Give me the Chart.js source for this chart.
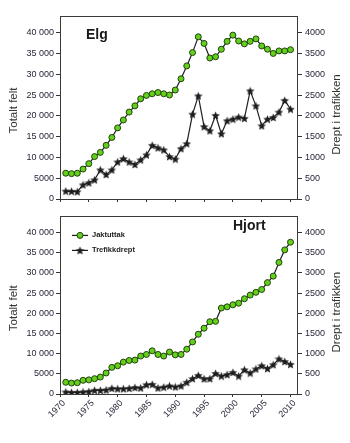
<!DOCTYPE html>
<html>
<head>
<meta charset="utf-8">
<script src="https://cdn.jsdelivr.net/npm/chart.js@4.4.1/dist/chart.umd.min.js"></script>
<style>
html, body { margin: 0; padding: 0; background: #fff; }
canvas { display: block; }
</style>
</head>
<body>
<canvas id="elgChart" width="350" height="208"></canvas>
<canvas id="hjortChart" width="350" height="235"></canvas>
<script>
// Data
const years = [1971, 1972, 1973, 1974, 1975, 1976, 1977, 1978, 1979, 1980,
               1981, 1982, 1983, 1984, 1985, 1986, 1987, 1988, 1989, 1990,
               1991, 1992, 1993, 1994, 1995, 1996, 1997, 1998, 1999, 2000,
               2001, 2002, 2003, 2004, 2005, 2006, 2007, 2008, 2009, 2010];

const elgHunted = [6200, 6100, 6200, 7200, 8500, 10200, 11200, 12900, 14800, 17100,
                   19000, 20900, 22400, 24100, 24900, 25300, 25600, 25300, 25000, 26200,
                   28900, 32000, 35200, 39000, 37400, 33900, 34200, 36000, 37900, 39400,
                   38000, 37300, 37900, 38500, 36800, 36000, 35000, 35600, 35600, 35900];
const elgTraffic = [190, 185, 175, 340, 390, 460, 700, 590, 700, 890,
                    970, 890, 830, 940, 1060, 1290, 1230, 1180, 1020, 960,
                    1210, 1330, 2040, 2480, 1740, 1640, 2010, 1570, 1880, 1920,
                    1970, 1940, 2600, 2240, 1760, 1920, 1960, 2090, 2370, 2160];

const hjortHunted = [2900, 2700, 2800, 3400, 3500, 3800, 4200, 5200, 6600, 7000,
                     7900, 8300, 8400, 9400, 9800, 10700, 9800, 9400, 10400, 9700,
                     9800, 11100, 12900, 14800, 16300, 17900, 18000, 21300, 21600, 22100,
                     22500, 23600, 24500, 25200, 25900, 27600, 29200, 32600, 35700, 37600];
const hjortTraffic = [50, 40, 40, 50, 60, 90, 90, 100, 140, 130,
                      130, 140, 160, 150, 230, 240, 150, 170, 200, 175,
                      200, 290, 380, 460, 375, 380, 510, 445, 480, 535,
                      445, 600, 520, 620, 700, 630, 725, 870, 805, 735];

const yearTicks = [1970, 1975, 1980, 1985, 1990, 1995, 2000, 2005, 2010];
const leftTicks = [0, 5000, 10000, 15000, 20000, 25000, 30000, 35000, 40000];
const rightTicks = [0, 500, 1000, 1500, 2000, 2500, 3000, 3500, 4000];

const seriesNames = ['Jaktuttak', 'Trefikkdrept'];
const leftTitle = 'Totalt felt';
const rightTitle = 'Drept i trafikken';

const FONT = "'Liberation Sans', Arial, sans-serif";
const TICK_COLOR = '#26263a';
const GREEN = '#62d01c';
const GREEN_EDGE = '#22400c';
const LINE = '#1e1e1e';

// Filled five point star used as marker
function makeStar(size, color) {
    const c = document.createElement('canvas');
    c.width = size;
    c.height = size;
    const g = c.getContext('2d');
    const cx = size / 2, cy = size / 2 + 0.4;
    const R = size / 2, r = R * 0.45;
    g.beginPath();
    for (let i = 0; i < 10; i++) {
        const a = -Math.PI / 2 + i * Math.PI / 5;
        const rad = i % 2 ? r : R;
        g.lineTo(cx + rad * Math.cos(a), cy + rad * Math.sin(a));
    }
    g.closePath();
    g.fillStyle = color;
    g.fill();
    return c;
}
const starImg = makeStar(9, '#1e1e1e');

function formatLeft(v) {
    if (v >= 10000) {
        return Math.floor(v / 1000) + ' ' + String(v % 1000).padStart(3, '0');
    }
    return String(v);
}

function toPoints(values) {
    return years.map((y, i) => ({ x: y, y: values[i] }));
}

// Frame, axis titles, chart title and legend
const decorPlugin = {
    id: 'decor',
    afterDraw(chart, args, opts) {
        const ctx = chart.ctx;
        const a = chart.chartArea;
        ctx.save();
        ctx.strokeStyle = '#3a3a3a';
        ctx.lineWidth = 1;
        ctx.strokeRect(Math.round(a.left) + 0.5, Math.round(a.top) + 0.5,
                       Math.round(a.right - a.left) - 1, Math.round(a.bottom - a.top));

        // axis titles, both reading upwards
        const midY = (a.top + a.bottom) / 2;
        ctx.fillStyle = '#333';
        ctx.font = '11.5px ' + FONT;
        ctx.textAlign = 'center';
        ctx.textBaseline = 'middle';
        ctx.save();
        ctx.translate(14, midY + 3);
        ctx.rotate(-Math.PI / 2);
        ctx.fillText(leftTitle, 0, 0);
        ctx.restore();
        ctx.save();
        ctx.translate(337, midY + 7);
        ctx.rotate(-Math.PI / 2);
        ctx.fillText(rightTitle, 0, 0);
        ctx.restore();

        // chart title
        ctx.fillStyle = '#1a1a1a';
        ctx.font = 'bold 14px ' + FONT;
        ctx.textAlign = 'left';
        ctx.fillText(opts.title, opts.titleX, opts.titleY);

        if (opts.legend) {
            const lx = 72, ly = [a.top + 19, a.top + 34];
            ctx.font = 'bold 7.5px ' + FONT;
            ctx.fillStyle = '#222';
            for (let i = 0; i < 2; i++) {
                ctx.beginPath();
                ctx.strokeStyle = LINE;
                ctx.lineWidth = 1.2;
                ctx.moveTo(lx, ly[i]);
                ctx.lineTo(lx + 16, ly[i]);
                ctx.stroke();
                if (i === 0) {
                    ctx.beginPath();
                    ctx.arc(lx + 8, ly[i], 3, 0, Math.PI * 2);
                    ctx.fillStyle = GREEN;
                    ctx.fill();
                    ctx.strokeStyle = GREEN_EDGE;
                    ctx.lineWidth = 1;
                    ctx.stroke();
                } else {
                    ctx.drawImage(starImg, lx + 8 - 4.5, ly[i] - 4.5);
                }
                ctx.fillStyle = '#222';
                ctx.fillText(seriesNames[i], lx + 20, ly[i]);
            }
        }
        ctx.restore();
    }
};

function buildChart(canvasId, hunted, traffic, deco, showYears, padTop, xHeight) {
    const ctx = document.getElementById(canvasId).getContext('2d');
    return new Chart(ctx, {
        type: 'line',
        data: {
            datasets: [
                {
                    label: seriesNames[0],
                    data: toPoints(hunted),
                    yAxisID: 'yL',
                    borderColor: LINE,
                    borderWidth: 1.2,
                    pointStyle: 'circle',
                    pointRadius: 3,
                    pointBackgroundColor: GREEN,
                    pointBorderColor: GREEN_EDGE,
                    pointBorderWidth: 1,
                    tension: 0
                },
                {
                    label: seriesNames[1],
                    data: toPoints(traffic),
                    yAxisID: 'yR',
                    borderColor: LINE,
                    borderWidth: 1.2,
                    pointStyle: starImg,
                    pointRadius: 4,
                    tension: 0
                }
            ]
        },
        options: {
            responsive: false,
            animation: false,
            layout: { padding: { top: padTop, left: 0, right: 0, bottom: 0 } },
            plugins: {
                legend: { display: false },
                tooltip: { enabled: false },
                decor: deco
            },
            scales: {
                x: {
                    type: 'linear',
                    min: 1970,
                    max: 2011.3,
                    afterBuildTicks: axis => { axis.ticks = yearTicks.map(v => ({ value: v })); },
                    afterFit: axis => { axis.height = xHeight; },
                    border: { display: false },
                    grid: { drawOnChartArea: false, tickLength: 3, color: '#333' },
                    ticks: {
                        display: showYears,
                        autoSkip: false,
                        minRotation: 45,
                        maxRotation: 45,
                        padding: 1,
                        labelOffset: 4,
                        color: TICK_COLOR,
                        font: { family: FONT, size: 9 },
                        callback: v => String(v)
                    }
                },
                yL: {
                    position: 'left',
                    min: 0,
                    max: 44000,
                    afterBuildTicks: axis => { axis.ticks = leftTicks.map(v => ({ value: v })); },
                    afterFit: axis => { axis.width = 60; },
                    border: { display: false },
                    grid: { drawOnChartArea: false, tickLength: 4, color: '#333' },
                    ticks: {
                        padding: 2,
                        color: TICK_COLOR,
                        font: { family: FONT, size: 9 },
                        callback: v => formatLeft(v)
                    }
                },
                yR: {
                    position: 'right',
                    min: 0,
                    max: 4400,
                    afterBuildTicks: axis => { axis.ticks = rightTicks.map(v => ({ value: v })); },
                    afterFit: axis => { axis.width = 52; },
                    border: { display: false },
                    grid: { drawOnChartArea: false, tickLength: 4, color: '#333' },
                    ticks: {
                        padding: 3,
                        color: TICK_COLOR,
                        font: { family: FONT, size: 9 },
                        callback: v => String(v)
                    }
                }
            }
        },
        plugins: [decorPlugin]
    });
}

buildChart('elgChart', elgHunted, elgTraffic,
           { title: 'Elg', titleX: 86, titleY: 35, legend: false }, false, 16, 9);
buildChart('hjortChart', hjortHunted, hjortTraffic,
           { title: 'Hjort', titleX: 233, titleY: 18, legend: true }, true, 3, 49);
</script>
</body>
</html>
